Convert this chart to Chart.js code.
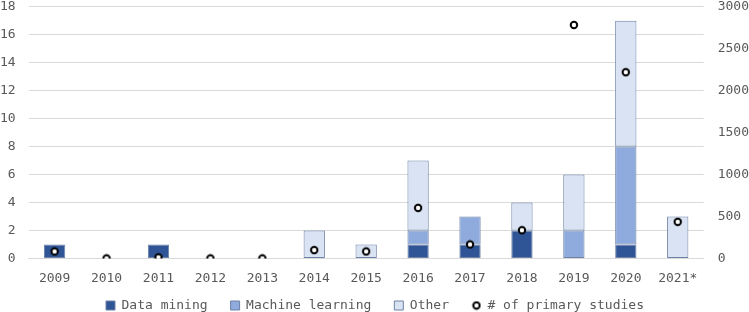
<!DOCTYPE html>
<html>
<head>
<meta charset="utf-8">
<script src="https://cdn.jsdelivr.net/npm/chart.js@4/dist/chart.umd.min.js"></script>
<style>
body{margin:0;overflow:hidden;background:#fff;}
#wrap{width:763px;height:327px;margin-top:-15px;}
</style>
</head>
<body>
<div id="wrap"><canvas id="chart"></canvas></div>
<script>

// ---------------------
// DATA
// ---------------------

const years=["2009","2010","2011","2012","2013","2014","2015","2016","2017","2018","2019","2020","2021*"];
const dataMining=[1,0,1,0,0,0,0,1,1,2,0,1,0];
const machineLearning=[0,0,0,0,0,0,0,1,2,0,2,7,0];
const other=[0,0,0,0,0,2,1,5,0,2,4,9,3];
const primaryStudies=[83,0,12,0,0,99,83,602,166,336,2783,2220,436];

const leftTicks=[0,18,2];
const rightTicks=[0,3000,500];

// ---------------------
// CHART
// ---------------------

const gray="#595959";
const font={family:"'DejaVu Sans Mono', monospace",size:13};

function dotIcon(){
    const c=document.createElement("canvas");
    c.width=10;c.height=10;
    const g=c.getContext("2d");
    g.beginPath();
    g.arc(5,5,3.2,0,Math.PI*2);
    g.fillStyle="#fff";g.fill();
    g.lineWidth=2;g.strokeStyle="#000";g.stroke();
    return c;
}

function barSet(label,data,color){
    return {
        type:"bar",
        label:label,
        // empty years get no bar at all (a zero bar would still show its border)
        data:data.map(v=>v||null),
        backgroundColor:color,
        borderColor:"#6E82A6",
        borderWidth:1,
        borderSkipped:false,
        yAxisID:"y",
        order:1,
        pointStyle:"rect"
    };
}

// pull the legend up closer to the year labels
const legendNudge={
    id:"legendNudge",
    afterLayout(chart){
        chart.legend.top-=14;
        chart.legend.bottom-=14;
    }
};

new Chart(document.getElementById("chart"),{

    data:{
        labels:years,
        datasets:[
            barSet("Data mining",dataMining,"#2F5597"),
            barSet("Machine learning",machineLearning,"#8FAADC"),
            barSet("Other",other,"#DAE3F3"),
            {
                type:"line",
                label:"# of primary studies",
                data:primaryStudies,
                showLine:false,
                yAxisID:"y1",
                order:0,
                pointRadius:3.3,
                pointBorderWidth:2,
                pointBackgroundColor:"#fff",
                pointBorderColor:"#000",
                backgroundColor:"#fff",
                borderColor:"#000",
                pointStyle:dotIcon()
            }
        ]
    },

    plugins:[legendNudge],

    options:{
        responsive:true,
        maintainAspectRatio:false,
        animation:false,
        layout:{padding:{top:0,left:-13,right:0,bottom:-24}},
        datasets:{bar:{barPercentage:0.41,categoryPercentage:1}},
        elements:{point:{pointStyle:"circle"}},
        plugins:{
            tooltip:{enabled:false},
            legend:{
                position:"bottom",
                labels:{
                    usePointStyle:true,
                    boxWidth:9,
                    boxHeight:9,
                    padding:23,
                    color:gray,
                    font:font,
                    sort:(a,b)=>a.datasetIndex-b.datasetIndex
                }
            }
        },
        scales:{
            x:{
                stacked:true,
                grid:{display:false},
                border:{display:true,color:"#D9D9D9"},
                ticks:{color:gray,font:font,padding:4}
            },
            y:{
                stacked:true,
                position:"left",
                min:leftTicks[0],
                max:leftTicks[1],
                ticks:{stepSize:leftTicks[2],color:gray,font:font,padding:13},
                grid:{color:"#D9D9D9",drawTicks:false},
                border:{display:false}
            },
            y1:{
                position:"right",
                min:rightTicks[0],
                max:rightTicks[1],
                ticks:{stepSize:rightTicks[2],color:gray,font:font,padding:14,callback:v=>String(v)},
                grid:{display:false,drawTicks:false},
                border:{display:false}
            }
        }
    }

});

</script>
</body>
</html>
